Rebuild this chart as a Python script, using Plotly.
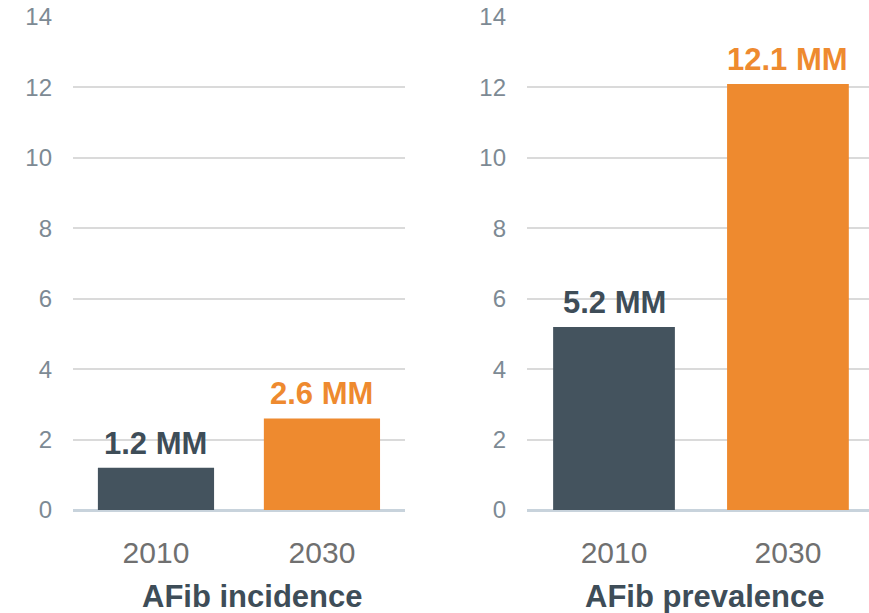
import plotly.graph_objects as go
from plotly.subplots import make_subplots

years = ["2010", "2030"]
incidence = [1.2, 2.6]
prevalence = [5.2, 12.1]
incidence_labels = ["1.2 MM", "2.6 MM"]
prevalence_labels = ["5.2 MM", "12.1 MM"]
panel_titles = ["AFib incidence", "AFib prevalence"]
y_ticks = [0, 2, 4, 6, 8, 10, 12, 14]

bar_colors = ["#44535e", "#ee8a2f"]
text_colors = ["#3e4d58", "#ee8a2f"]
FONT = "Liberation Sans, Arial, sans-serif"

fig = make_subplots(rows=1, cols=2, horizontal_spacing=0.153)

panels = [(incidence, incidence_labels), (prevalence, prevalence_labels)]
for col, (vals, labels) in enumerate(panels, start=1):
    fig.add_trace(go.Bar(
        x=years, y=vals, width=0.70,
        marker=dict(color=bar_colors, line=dict(width=0)),
        showlegend=False, hoverinfo="skip",
    ), row=1, col=col)
    xr = "x" if col == 1 else "x2"
    yr = "y" if col == 1 else "y2"
    for i, (v, lab) in enumerate(zip(vals, labels)):
        fig.add_annotation(
            x=i, y=v, xref=xr, yref=yr, text=f"<b>{lab}</b>",
            showarrow=False, yanchor="bottom", xanchor="center", yshift=5,
            font=dict(family=FONT, size=31, color=text_colors[i]),
        )

fig.update_layout(
    width=869, height=613,
    margin=dict(l=73, r=0, t=17, b=103),
    plot_bgcolor="white", paper_bgcolor="white",
)
fig.update_xaxes(domain=[0, 0.417], range=[-0.5, 1.5], row=1, col=1)
fig.update_xaxes(domain=[0.5704, 1.0], range=[-0.5, 1.466], row=1, col=2)
fig.update_xaxes(
    type="category", showgrid=False, showline=False, zeroline=False,
    ticks="", ticklabelstandoff=22,
    tickfont=dict(family=FONT, size=30, color="#707070"),
)
fig.update_yaxes(
    range=[0, 14], tickvals=y_ticks, showline=False,
    showgrid=True, gridcolor="#dadada", gridwidth=2,
    zeroline=True, zerolinecolor="#c8d3dc", zerolinewidth=3,
    ticks="", ticklabelstandoff=20,
    tickfont=dict(family=FONT, size=24, color="#7d8a94"),
)

for i, title in enumerate(panel_titles):
    xref = "x domain" if i == 0 else "x2 domain"
    fig.add_annotation(
        text=f"<b>{title}</b>", xref=xref, yref="paper",
        x=0.54 if i == 0 else 0.52, y=-0.176, xanchor="center", yanchor="middle",
        showarrow=False, font=dict(family=FONT, size=31, color="#3e4d58"),
    )

fig.write_html("out.html")
